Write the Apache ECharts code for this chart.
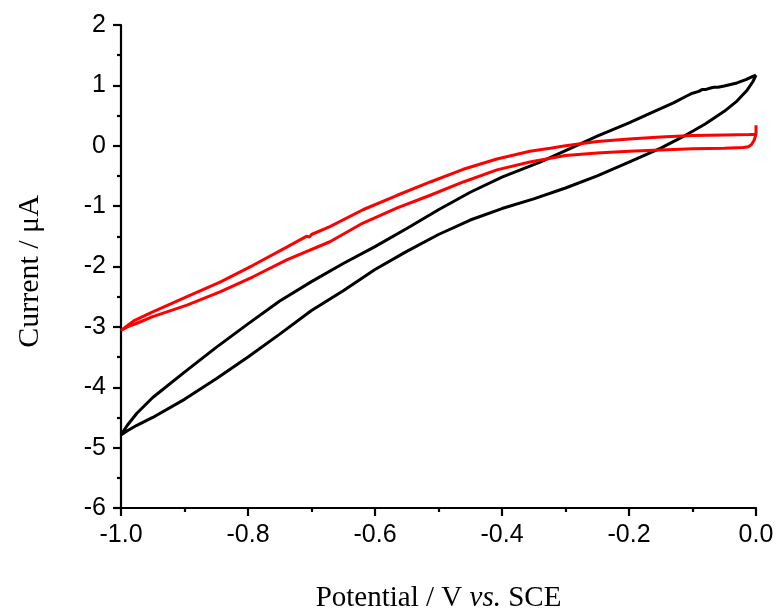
<!DOCTYPE html>
<html>
<head>
<meta charset="utf-8">
<title>Cyclic voltammograms</title>
<script src="https://cdn.jsdelivr.net/npm/echarts@6/dist/echarts.min.js"></script>
<style>
  html, body { margin: 0; padding: 0; background: #ffffff; }
  #chart { width: 778px; height: 611px; }
</style>
</head>
<body>
<div id="chart"></div>
<script>
// Black voltammogram: one closed scan, listed as a loop (0 V -> -1 V -> 0 V)
const blackPotential = [
  0, -0.005, -0.015, -0.03, -0.05, -0.06, -0.063, -0.066, -0.07, -0.08, -0.085, -0.088, -0.09, -0.10,
  -0.11, -0.13, -0.16, -0.20, -0.25, -0.30, -0.34, -0.40, -0.45, -0.50, -0.55,
  -0.60, -0.65, -0.70, -0.75, -0.80, -0.85, -0.90, -0.95, -0.975, -0.99, -1.0,
  -0.99, -0.975, -0.95, -0.90, -0.85, -0.80, -0.75, -0.70, -0.65, -0.60, -0.55,
  -0.50, -0.45, -0.40, -0.35, -0.30, -0.25, -0.20, -0.15, -0.115, -0.08, -0.05,
  -0.03, -0.014, -0.005, 0
];
const blackCurrent = [
  1.17, 1.15, 1.10, 1.04, 0.99, 0.97, 0.99, 0.97, 0.96, 0.93, 0.93, 0.91, 0.90, 0.87,
  0.82, 0.71, 0.57, 0.38, 0.16, -0.08, -0.27, -0.52, -0.77, -1.06, -1.37,
  -1.67, -1.95, -2.25, -2.57, -2.95, -3.34, -3.75, -4.17, -4.43, -4.63, -4.79,
  -4.72, -4.63, -4.50, -4.20, -3.86, -3.50, -3.12, -2.73, -2.40, -2.05, -1.75,
  -1.47, -1.23, -1.04, -0.88, -0.70, -0.50, -0.27, -0.04, 0.15, 0.36, 0.57,
  0.74, 0.92, 1.06, 1.17
];

// Red voltammogram: same scan sequence
const redPotential = [
  0, 0, -0.01, -0.05, -0.10, -0.15, -0.20, -0.25, -0.30, -0.324, -0.356, -0.408,
  -0.461, -0.513, -0.565, -0.619, -0.671, -0.70, -0.703, -0.708, -0.739, -0.792,
  -0.844, -0.896, -0.95, -0.98, -1.0,
  -0.99, -0.975, -0.95, -0.896, -0.844, -0.792, -0.739, -0.671, -0.619, -0.565,
  -0.513, -0.461, -0.408, -0.356, -0.30, -0.25, -0.20, -0.15, -0.10, -0.05,
  -0.02, -0.012, -0.007, -0.003, 0
];
const redCurrent = [
  0.34, 0.19, 0.185, 0.18, 0.17, 0.145, 0.11, 0.07, 0.0, -0.04, -0.09, -0.22,
  -0.39, -0.60, -0.82, -1.06, -1.34, -1.47, -1.51, -1.50, -1.68, -1.98,
  -2.26, -2.50, -2.75, -2.90, -3.06,
  -3.00, -2.94, -2.83, -2.64, -2.42, -2.17, -1.89, -1.59, -1.28, -1.03,
  -0.82, -0.60, -0.40, -0.27, -0.16, -0.12, -0.09, -0.07, -0.05, -0.04,
  -0.03, -0.015, 0.02, 0.09, 0.19
];

// Axis ranges and titles
const xTicks = { min: -1.0, max: 0.0, step: 0.2 };
const yTicks = { min: -6, max: 2, step: 1 };
const xTitle = '{n|Potential / V }{i|vs.}{n| SCE}';
const yTitle = 'Current / \u03bcA';

const pairs = (xs, ys) => xs.map((x, i) => [x, ys[i]]);

const chart = echarts.init(document.getElementById('chart'), null, { renderer: 'canvas' });

const serif = 'Liberation Serif, Times New Roman, serif';
const axisCommon = {
  axisLine: { show: true, onZero: false, lineStyle: { color: '#000', width: 2.2 } },
  axisTick: { show: true, inside: false, length: 8, lineStyle: { color: '#000', width: 2.2 } },
  minorTick: { show: true, splitNumber: 2, length: 4, lineStyle: { color: '#000', width: 2.2 } },
  splitLine: { show: false },
  axisLabel: {
    color: '#000',
    fontFamily: 'Liberation Sans, Arial, sans-serif',
    fontSize: 25,
    margin: 15
  }
};

chart.setOption({
  animation: false,
  backgroundColor: '#ffffff',
  grid: {
    left: 121, right: 22, top: 25, bottom: 103,
    containLabel: false,
    outerBoundsMode: 'none'
  },
  xAxis: Object.assign({}, axisCommon, {
    type: 'value',
    min: xTicks.min,
    max: xTicks.max,
    interval: xTicks.step,
    axisLabel: Object.assign({}, axisCommon.axisLabel, {
      formatter: v => v.toFixed(1)
    }),
    name: xTitle,
    nameLocation: 'middle',
    nameGap: 76,
    nameTextStyle: {
      rich: {
        n: { fontFamily: serif, fontSize: 29, color: '#000' },
        i: { fontFamily: serif, fontSize: 29, fontStyle: 'italic', color: '#000' }
      }
    }
  }),
  yAxis: Object.assign({}, axisCommon, {
    type: 'value',
    min: yTicks.min,
    max: yTicks.max,
    interval: yTicks.step,
    name: yTitle,
    nameLocation: 'middle',
    nameGap: 76,
    nameTextStyle: {
      fontFamily: serif,
      fontSize: 30,
      color: '#000',
      padding: [0, 10, 0, 0]
    }
  }),
  series: [
    {
      type: 'line',
      data: pairs(blackPotential, blackCurrent),
      showSymbol: false,
      smooth: false,
      lineStyle: { color: '#000000', width: 3 },
      z: 3
    },
    {
      type: 'line',
      data: pairs(redPotential, redCurrent),
      showSymbol: false,
      smooth: false,
      lineStyle: { color: '#ff0000', width: 3 },
      z: 4
    }
  ]
});
</script>
</body>
</html>
